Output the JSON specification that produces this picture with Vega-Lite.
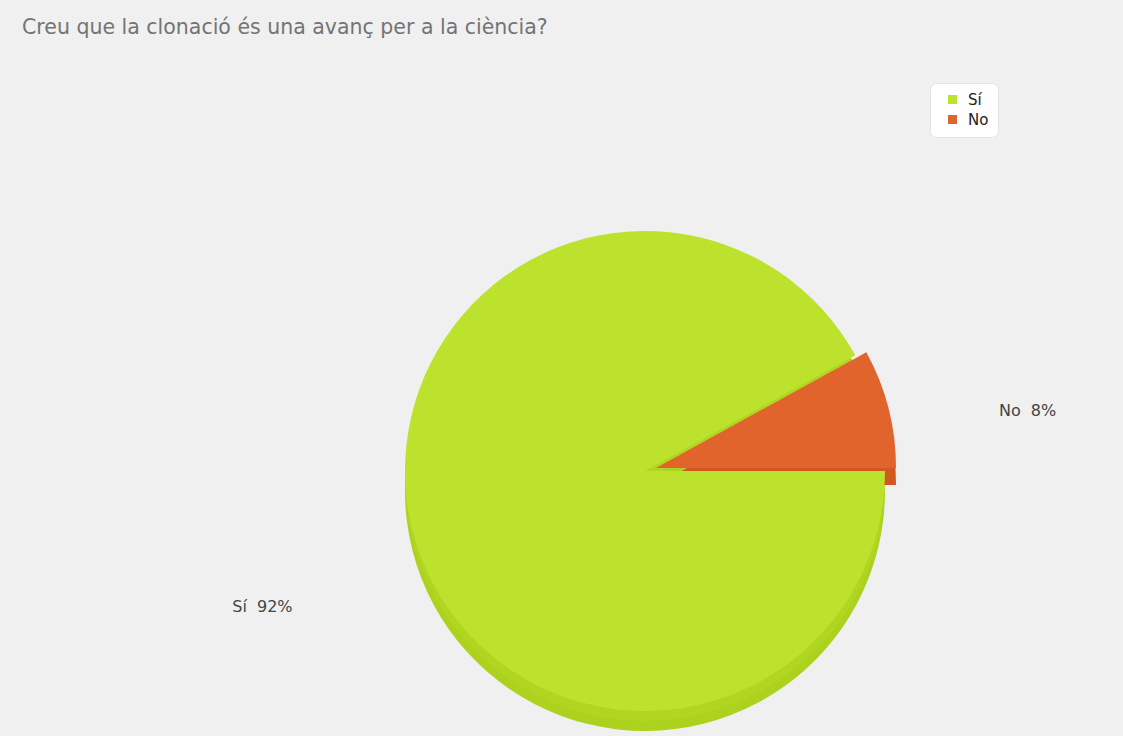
{
  "$schema": "https://vega.github.io/schema/vega-lite/v6.json",
  "autosize": {"type": "none"},
  "padding": {"left": 167, "top": 206, "right": 0, "bottom": 0},
  "width": 956,
  "height": 530,
  "background": "#f0f0f0",
  "title": {
    "text": "Creu que la clonació és una avanç per a la ciència?",
    "anchor": "start",
    "frame": "group",
    "orient": "top",
    "baseline": "alphabetic",
    "offset": 28,
    "dx": -145,
    "font": "DejaVu Sans",
    "fontSize": 20.5,
    "fontWeight": "normal",
    "color": "#747474"
  },
  "data": {
    "values": [
      {"cat": "No", "pct": 8, "label": "No\u00a0 8%"},
      {"cat": "Sí", "pct": 92, "label": "Sí\u00a0 92%"}
    ]
  },
  "encoding": {
    "theta": {"field": "pct", "type": "quantitative", "stack": true, "scale": {"range": [1.0681, 7.3513]}},
    "order": {"field": "cat", "type": "ordinal"}
  },
  "layer": [
    {
      "mark": {"type": "arc", "radius": 240, "yOffset": 20},
      "encoding": {
        "fill": {"value": "#acd21e"},
        "opacity": {"condition": {"test": "datum.cat === 'No'", "value": 0}, "value": 1}
      }
    },
    {
      "mark": {"type": "arc", "radius": 240, "yOffset": 10},
      "encoding": {
        "fill": {"value": "#b0d622"},
        "opacity": {"condition": {"test": "datum.cat === 'No'", "value": 0}, "value": 1}
      }
    },
    {
      "mark": {"type": "arc", "radius": 240, "xOffset": 11, "yOffset": 14},
      "encoding": {
        "fill": {"value": "#d2581f"},
        "opacity": {"condition": {"test": "datum.cat === 'Sí'", "value": 0}, "value": 1}
      }
    },
    {
      "mark": {"type": "arc", "radius": 240, "yOffset": 0},
      "encoding": {
        "color": {"field": "cat", "type": "nominal", "scale": {"domain": ["Sí", "No"], "range": ["#bde22e", "#e0642c"]},
          "legend": {
            "title": null,
            "orient": "none",
            "legendX": 763,
            "legendY": -123,
            "fillColor": "#ffffff",
            "strokeColor": "#e4e4e4",
            "cornerRadius": 6,
            "padding": 9,
            "symbolType": "square",
            "symbolSize": 81,
            "symbolOffset": 6,
            "labelOffset": 8,
            "labelFont": "DejaVu Sans",
            "labelFontSize": 15,
            "labelColor": "#222222",
            "rowPadding": 4
          }},
        "opacity": {"condition": {"test": "datum.cat === 'No'", "value": 0}, "value": 1}
      }
    },
    {
      "mark": {"type": "arc", "radius": 240, "xOffset": 11, "yOffset": -3},
      "encoding": {
        "color": {"field": "cat", "type": "nominal"},
        "opacity": {"condition": {"test": "datum.cat === 'Sí'", "value": 0}, "value": 1}
      }
    },
    {
      "mark": {"type": "text", "radius": 395, "dy": 38, "font": "DejaVu Sans", "fontSize": 16, "color": "#444444"},
      "encoding": {
        "text": {"field": "label"}
      }
    }
  ]
}
